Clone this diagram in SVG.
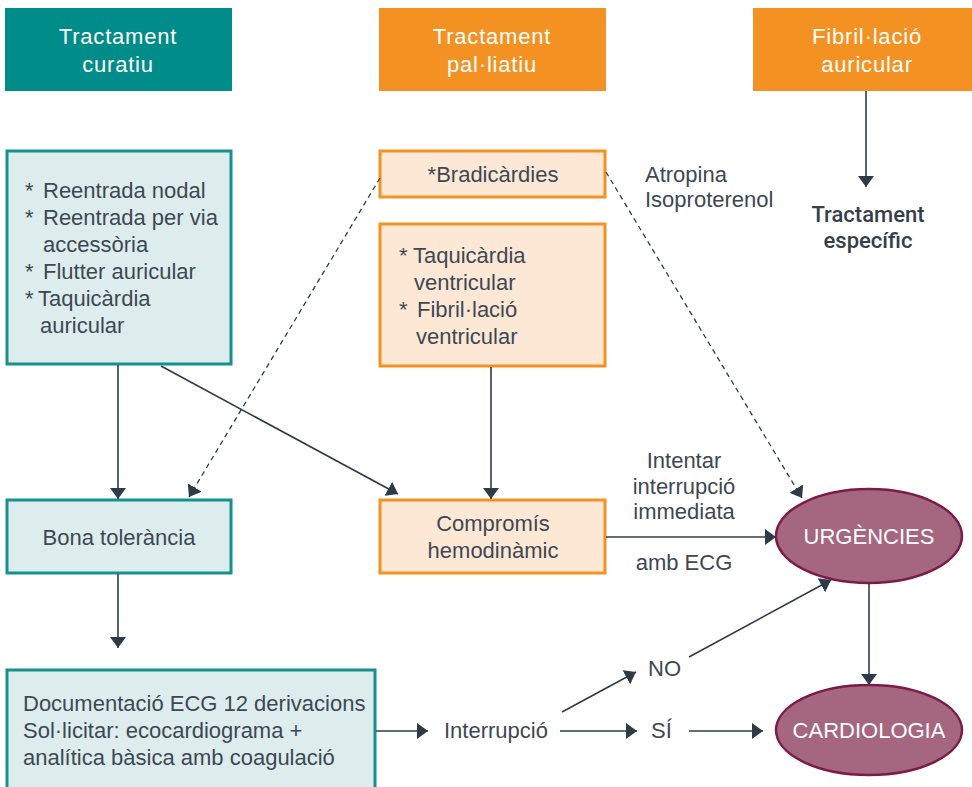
<svg xmlns="http://www.w3.org/2000/svg" width="972" height="787" viewBox="0 0 972 787">
<defs>
<style>
.t{font-family:"Liberation Sans",Arial,sans-serif;font-size:22px;fill:#3D4853}
.c{text-anchor:middle}
.h{font-family:"Liberation Sans",Arial,sans-serif;font-size:22px;fill:#FFFFFF;text-anchor:middle;letter-spacing:0.8px}
.hteal{fill:#008C88}
.hor{fill:#F39223}
.bteal{fill:#DDEDED;stroke:#13928E;stroke-width:3}
.bor{fill:#FDE8D6;stroke:#F39223;stroke-width:3}
.ell{fill:#A5667F;stroke:#7B1B48;stroke-width:2.5}
.e{font-family:"Liberation Sans",Arial,sans-serif;font-size:22px;fill:#FFFFFF;text-anchor:middle}
.s{font-family:Roboto,"Liberation Sans",sans-serif;font-size:22px;font-weight:500;fill:#333F4B;text-anchor:middle}
.ln{stroke:#2D3B48;stroke-width:1.6;fill:none}
.dl{stroke:#2D3B48;stroke-width:1.3;fill:none;stroke-dasharray:5 4}
</style>
<marker id="ar" viewBox="0 0 11 16" refX="11" refY="8" markerWidth="11" markerHeight="16" markerUnits="userSpaceOnUse" orient="auto">
<path d="M0,0 L11,8 L0,16 z" fill="#2D3B48"/>
</marker>
</defs>
<rect width="972" height="787" fill="#FFFFFF"/>

<g id="h-curatiu">
<rect class="hteal" x="5" y="8" width="227" height="83"/>
<text class="h" x="118" y="44">Tractament</text>
<text class="h" x="118" y="72">curatiu</text>
</g>
<g id="h-palliatiu">
<rect class="hor" x="379" y="8" width="227" height="83"/>
<text class="h" x="492" y="44">Tractament</text>
<text class="h" x="492" y="72">pal·liatiu</text>
</g>
<g id="h-fibril">
<rect class="hor" x="753" y="8" width="219" height="83"/>
<text class="h" x="867" y="44">Fibril·lació</text>
<text class="h" x="867" y="72">auricular</text>
</g>

<g id="n-curatiu-list">
<rect class="bteal" x="7" y="151" width="224" height="213"/>
<text class="t" x="25" y="198">*</text><text class="t" x="43" y="198">Reentrada nodal</text>
<text class="t" x="25" y="225">*</text><text class="t" x="43" y="225">Reentrada per via</text>
<text class="t" x="43" y="252">accessòria</text>
<text class="t" x="25" y="279">*</text><text class="t" x="43" y="279">Flutter auricular</text>
<text class="t" x="25" y="306">*</text><text class="t" x="38" y="306">Taquicàrdia</text>
<text class="t" x="40" y="333">auricular</text>
</g>

<g id="n-bradicardies">
<rect class="bor" x="380" y="151" width="225" height="46"/>
<text class="t c" x="493" y="182">*Bradicàrdies</text>
</g>

<g id="n-taqui">
<rect class="bor" x="380" y="224" width="225" height="142"/>
<text class="t" x="399" y="263">*</text><text class="t" x="413" y="263">Taquicàrdia</text>
<text class="t" x="414" y="290">ventricular</text>
<text class="t" x="399" y="317">*</text><text class="t" x="417" y="317">Fibril·lació</text>
<text class="t" x="416" y="344">ventricular</text>
</g>

<g id="n-atropina">
<text class="t" x="645" y="182">Atropina</text>
<text class="t" x="645" y="207">Isoproterenol</text>
</g>

<g id="n-especific">
<text class="s" x="868" y="222">Tractament</text>
<text class="s" x="868" y="248">específic</text>
</g>

<g id="n-bona">
<rect class="bteal" x="7" y="500" width="224" height="73"/>
<text class="t c" x="119" y="545">Bona tolerància</text>
</g>

<g id="n-compromis">
<rect class="bor" x="380" y="500" width="225" height="73"/>
<text class="t c" x="493" y="531">Compromís</text>
<text class="t c" x="493" y="558">hemodinàmic</text>
</g>

<g id="n-urgencies">
<ellipse class="ell" cx="869" cy="536" rx="93" ry="47"/>
<text class="e" x="869" y="544">URGÈNCIES</text>
</g>

<g id="n-cardiologia">
<ellipse class="ell" cx="869" cy="730" rx="93" ry="45"/>
<text class="e" x="869" y="738">CARDIOLOGIA</text>
</g>

<g id="n-documentacio">
<rect class="bteal" x="7" y="670" width="368" height="130"/>
<text class="t" x="23" y="711">Documentació ECG 12 derivacions</text>
<text class="t" x="23" y="738">Sol·licitar: ecocardiograma +</text>
<text class="t" x="23" y="765">analítica bàsica amb coagulació</text>
</g>

<g id="n-interrupcio">
<text class="t" x="444" y="738">Interrupció</text>
</g>
<g id="n-no">
<text class="t" x="648" y="676">NO</text>
</g>
<g id="n-si">
<text class="t" x="651" y="738">SÍ</text>
</g>

<g id="edge-labels">
<text class="t c" x="684" y="468">Intentar</text>
<text class="t c" x="684" y="494">interrupció</text>
<text class="t c" x="684" y="519">immediata</text>
<text class="t c" x="684" y="570">amb ECG</text>
</g>

<g id="connectors">
<line class="ln" x1="866" y1="91" x2="866" y2="187" marker-end="url(#ar)"/>
<line class="ln" x1="118" y1="365" x2="118" y2="499" marker-end="url(#ar)"/>
<line class="ln" x1="161" y1="366" x2="398" y2="494" marker-end="url(#ar)"/>
<line class="dl" x1="380" y1="178" x2="189" y2="497" marker-end="url(#ar)"/>
<line class="ln" x1="491" y1="367" x2="491" y2="499" marker-end="url(#ar)"/>
<line class="dl" x1="606" y1="172" x2="802" y2="498" marker-end="url(#ar)"/>
<line class="ln" x1="606" y1="537" x2="776" y2="537" marker-end="url(#ar)"/>
<line class="ln" x1="118" y1="574" x2="118" y2="648" marker-end="url(#ar)"/>
<line class="ln" x1="869" y1="583" x2="869" y2="685" marker-end="url(#ar)"/>
<line class="ln" x1="376" y1="731" x2="428" y2="731" marker-end="url(#ar)"/>
<line class="ln" x1="560" y1="731" x2="637" y2="731" marker-end="url(#ar)"/>
<line class="ln" x1="689" y1="731" x2="763" y2="731" marker-end="url(#ar)"/>
<line class="ln" x1="562" y1="712" x2="636" y2="672" marker-end="url(#ar)"/>
<line class="ln" x1="689" y1="657" x2="831" y2="580" marker-end="url(#ar)"/>
</g>
</svg>
